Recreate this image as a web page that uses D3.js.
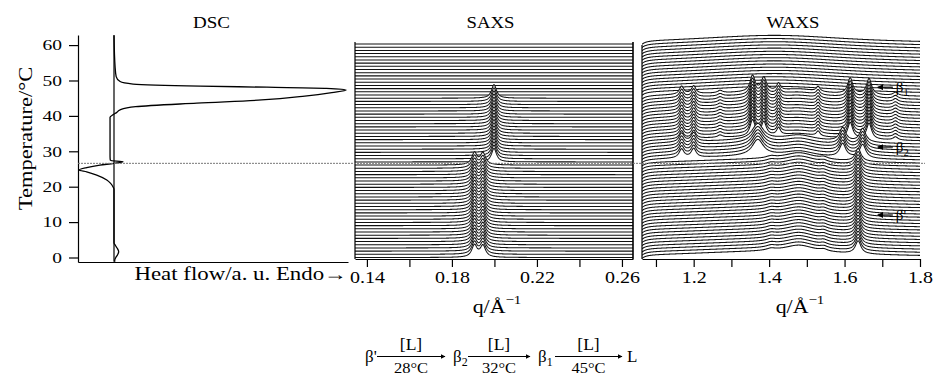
<!DOCTYPE html>
<html>
<head>
<meta charset="utf-8">
<script src="https://cdn.jsdelivr.net/npm/d3@7"></script>
<style>
  body { margin: 0; background: #fff; }
  svg { display: block; font-family: "Liberation Serif", "Times New Roman", serif; }
</style>
</head>
<body>
<svg id="chart" width="933" height="376"></svg>
<script>
// scan temperatures (°C), one trace per scan in SAXS / WAXS
const temps = [0, 0.9, 1.8, 2.7, 3.6, 4.5, 5.4, 6.3, 7.2, 8.1, 9, 9.9, 10.8, 11.7, 12.6, 13.5,
  14.4, 15.3, 16.2, 17.1, 18, 18.9, 19.8, 20.7, 21.6, 22.5, 23.4, 24.3, 25.2, 26.1, 27, 27.9,
  28.8, 29.7, 30.6, 31.5, 32.4, 33.3, 34.2, 35.1, 36, 36.9, 37.8, 38.7, 39.6, 40.5, 41.4, 42.3,
  43.2, 44.1, 45, 45.9, 46.8, 47.7, 48.6, 49.5, 50.4, 51.3, 52.2, 53.1, 54, 54.9, 55.8, 56.7,
  57.6, 58.5, 59.4, 60.3];
const transitionT = 26.6;

// DSC trace (temperature, heat flow a.u.)
const dscT = [-1.2, -0.8, 0, 0.8, 1.6, 2.6, 3.4, 4.2, 19.2, 20.0, 21.0, 21.9, 23.3, 24.2, 24.7,
  25.4, 26.1, 26.6, 27.06, 27.4, 28.5, 39.6, 40.3, 41.0, 41.7, 42.6, 43.6, 44.5, 45.6, 46.6, 47.3,
  47.8, 48.1, 48.4, 49.0, 49.7, 51.1, 53.9, 62.8];
const dscFlow = [0.02, 0.02, 0.05, 0.1, 0.13, 0.09, 0.04, 0, 0, -0.03, -0.1, -0.2, -0.48, -0.76, -0.97,
  -0.76, -0.39, 0, 0.25, -0.1, -0.11, -0.11, -0.03, 0.08, 0.17, 0.6, 2.3, 4.1, 5.3, 6.05, 6.45,
  5.9, 4.25, 2.39, 0.53, 0.17, 0.06, 0.03, 0];

// peaks: [q, relative height, half width, from T, to T]
const saxsPeaks = [
  [0.1906, 0.75, 0.0015, -1, transitionT],
  [0.1946, 0.72, 0.0015, -1, transitionT],
  [0.1998, 0.85, 0.0014, transitionT, 45.5]
];
const waxsPeaks = [
  [1.05, -0.5, 0.012, -1, 61],
  [1.38, 0.35, 0.3, -1, 61],
  // beta'
  [1.48, 0.45, 0.05, -1, transitionT],
  [1.405, 0.12, 0.015, -1, transitionT],
  [1.545, 0.12, 0.012, -1, transitionT],
  [1.636, 0.8, 0.009, -1, transitionT],
  // beta2
  [1.48, 0.35, 0.05, transitionT, 32],
  [1.168, 0.55, 0.008, transitionT, 32],
  [1.2, 0.55, 0.008, transitionT, 32],
  [1.37, 1.0, 0.018, transitionT, 32],
  [1.595, 0.85, 0.01, transitionT, 32],
  [1.648, 0.85, 0.01, transitionT, 32],
  // beta1
  [1.48, 0.25, 0.06, 32, 45.5],
  [1.168, 0.5, 0.007, 32, 45.5],
  [1.2, 0.5, 0.007, 32, 45.5],
  [1.27, 0.15, 0.008, 32, 45.5],
  [1.356, 1.0, 0.008, 32, 45.5],
  [1.386, 0.85, 0.008, 32, 45.5],
  [1.425, 0.45, 0.006, 32, 45.5],
  [1.53, 0.3, 0.006, 32, 45.5],
  [1.615, 1.0, 0.008, 32, 45.5],
  [1.665, 1.0, 0.008, 32, 45.5],
  [1.735, 0.2, 0.008, 32, 45.5],
  // liquid
  [1.44, 0.2, 0.2, 45.5, 61]
];

const tempTicks = [0, 10, 20, 30, 40, 50, 60];
const saxsTicks = [0.14, 0.16, 0.18, 0.20, 0.22, 0.24, 0.26];
const saxsTickLabels = ["0.14", "", "0.18", "", "0.22", "", "0.26"];
const waxsTicks = [1.1, 1.2, 1.3, 1.4, 1.5, 1.6, 1.7, 1.8];
const waxsTickLabels = ["", "1.2", "", "1.4", "", "1.6", "", "1.8"];
const waxsMarks = [["β1", 48.1], ["β2", 31.2], ["β'", 12.0]];
const schemePhases = ["β'", "β2", "β1", "L"];
const schemeTemps = ["28°C", "32°C", "45°C"];

const svg = d3.select('#chart');
const bottomY = 259;

const yT = d3.scaleLinear().domain([-1.27, 62.85]).range([262, 35]);
const xH = d3.scaleLinear().domain([-1, 6.5]).range([78, 348]);
const qS = d3.scaleLinear().domain([0.1344, 0.2652]).range([355, 633]);
const qW = d3.scaleLinear().domain([1.063, 1.8]).range([642, 920]);
const yI = d3.scaleLinear().domain([0, 1]).range([0, 16]);

function label(x, y, txt, size, sx, anchor) {
  return svg.append('text')
    .attr('transform', 'translate(' + x + ',' + y + ') scale(' + sx + ',1)')
    .attr('text-anchor', anchor || 'middle')
    .attr('font-size', size)
    .text(txt);
}
// main letter + optional subscript digit
function phaseText(sel, s, size) {
  const sub = /\d/.test(s.slice(1));
  sel.append('tspan').text(sub ? s[0] : s);
  if (sub) sel.append('tspan').attr('font-size', size * 0.7).attr('dy', 4).text(s.slice(1));
}

// ---- stacked traces
function intensity(peaks, q, t) {
  let s = 0;
  for (const [q0, h, w, t0, t1] of peaks) {
    if (t > t0 && t <= t1) s += h / (1 + ((q - q0) / w) ** 2);
  }
  return s;
}

function drawStack(peaks, xq, id) {
  const [q0, q1] = xq.domain();
  const qs = d3.range(0, 701).map(i => q0 + (q1 - q0) * i / 700);
  svg.append('clipPath').attr('id', id)
    .append('rect').attr('x', xq.range()[0]).attr('y', 0)
    .attr('width', xq.range()[1] - xq.range()[0]).attr('height', bottomY);
  const g = svg.append('g').attr('clip-path', 'url(#' + id + ')');
  const area = d3.area().x(d => d[0]).y0(bottomY).y1(d => d[1]);
  const line = d3.line().x(d => d[0]).y(d => d[1]);
  temps.slice().sort((a, b) => b - a).forEach(t => {
    const pts = qs.map(q => [xq(q), yT(t) - yI(intensity(peaks, q, t))]);
    g.append('path').attr('d', area(pts)).attr('fill', '#fff');
    g.append('path').attr('d', line(pts)).attr('fill', 'none')
      .attr('stroke', '#111').attr('stroke-width', 1.05);
  });
}

drawStack(saxsPeaks, qS, 'clipS');
drawStack(waxsPeaks, qW, 'clipW');

// ---- DSC
svg.append('path')
  .attr('d', d3.line().x(d => xH(0)).y(d => yT(d))([-1.2, 62.8]))
  .attr('stroke', '#000').attr('stroke-width', 1.2);
svg.append('path')
  .datum(dscT.map((t, i) => [dscFlow[i], t]))
  .attr('d', d3.line().x(d => xH(d[0])).y(d => yT(d[1])).curve(d3.curveMonotoneY))
  .attr('fill', 'none').attr('stroke', '#000').attr('stroke-width', 1.3);

const gy = svg.append('g').attr('transform', 'translate(78,0)')
  .call(d3.axisLeft(yT).tickValues(tempTicks).tickSize(9).tickSizeOuter(0).tickFormat(d3.format('d')));
gy.selectAll('text').attr('x', 0).attr('transform', 'translate(-16,0) scale(1.3,1)')
  .attr('font-size', 15).attr('fill', '#000');

svg.append('g').attr('transform', 'translate(0,262)')
  .call(d3.axisBottom(xH).tickValues([]).tickSizeOuter(0));

// ---- SAXS / WAXS axes
function qAxis(xq, ticks, labels) {
  const g = svg.append('g').attr('transform', 'translate(0,' + bottomY + ')')
    .call(d3.axisBottom(xq).tickValues(ticks).tickSize(8).tickSizeOuter(0).tickPadding(5)
      .tickFormat((d, i) => labels[i]));
  g.selectAll('text').attr('transform', 'scale(1.25,1)').attr('font-size', 16).attr('fill', '#000');
  return g;
}
qAxis(qS, saxsTicks, saxsTickLabels);
qAxis(qW, waxsTicks, waxsTickLabels);
svg.selectAll('.domain, .tick line').attr('stroke', '#000').attr('stroke-width', 1.2);
svg.selectAll('g').attr('font-family', null);

// panel edges
svg.append('line').attr('x1', qS.range()[0]).attr('x2', qS.range()[0]).attr('y1', 42).attr('y2', bottomY)
  .attr('stroke', '#000').attr('stroke-width', 1.2);
svg.append('line').attr('x1', qS.range()[1]).attr('x2', qS.range()[1]).attr('y1', 42).attr('y2', bottomY)
  .attr('stroke', '#000').attr('stroke-width', 1.6);
svg.append('line').attr('x1', qW.range()[0]).attr('x2', qW.range()[0]).attr('y1', 45).attr('y2', bottomY)
  .attr('stroke', '#000').attr('stroke-width', 1.2);

// transition line
svg.append('line').attr('x1', 78).attr('x2', 925).attr('y1', yT(transitionT)).attr('y2', yT(transitionT))
  .attr('stroke', '#777').attr('stroke-width', 1).attr('stroke-dasharray', '2,1');

// WAXS phase marks
const defs = svg.append('defs');
defs.append('marker').attr('id', 'ah').attr('viewBox', '0 0 10 10').attr('refX', 9).attr('refY', 5)
  .attr('markerWidth', 5).attr('markerHeight', 5).attr('orient', 'auto')
  .append('path').attr('d', 'M0,0L10,5L0,10z').attr('fill', '#000');
waxsMarks.forEach(([name, t]) => {
  svg.append('line').attr('x1', qW(1.728)).attr('x2', qW(1.688)).attr('y1', yT(t)).attr('y2', yT(t))
    .attr('stroke', '#000').attr('stroke-width', 1.2).attr('marker-end', 'url(#ah)');
  const tx = svg.append('text').attr('x', qW(1.736)).attr('y', yT(t) + 5).attr('font-size', 15);
  phaseText(tx, name, 15);
});

// ---- titles and axis labels
label(211.5, 27.5, 'DSC', 17, 1.12);
label(490.5, 27.5, 'SAXS', 17, 1.1);
label(793, 27.5, 'WAXS', 17, 1.1);
svg.append('text').attr('transform', 'translate(32,138.5) rotate(-90) scale(1.25,1)')
  .attr('text-anchor', 'middle').attr('font-size', 18).text('Temperature/°C');
label(347, 280, 'Heat flow/a. u.  Endo→', 18, 1.27, 'end');

function qLabel(cx) {
  const t = svg.append('text').attr('transform', 'translate(' + cx + ',313) scale(1.15,1)')
    .attr('text-anchor', 'middle').attr('font-size', 19);
  t.append('tspan').text('q/Å');
  t.append('tspan').attr('font-size', 13).attr('dy', -9).text('−1');
}
qLabel(497);
qLabel(800);

// ---- transition scheme
const phaseX = [365, 453, 538, 627];
const arrows = [[377, 445], [468, 530], [555, 622]];
schemePhases.forEach((p, i) => {
  const t = svg.append('text').attr('x', phaseX[i]).attr('y', 361.5).attr('font-size', 17);
  phaseText(t, p, 17);
});
arrows.forEach(([a, b], i) => {
  svg.append('line').attr('x1', a).attr('x2', b).attr('y1', 356.5).attr('y2', 356.5)
    .attr('stroke', '#000').attr('stroke-width', 1).attr('marker-end', 'url(#ah)');
  label((a + b) / 2, 350, '[L]', 16, 1.1);
  label((a + b) / 2, 372.5, schemeTemps[i], 15, 1.1);
});
</script>
</body>
</html>
